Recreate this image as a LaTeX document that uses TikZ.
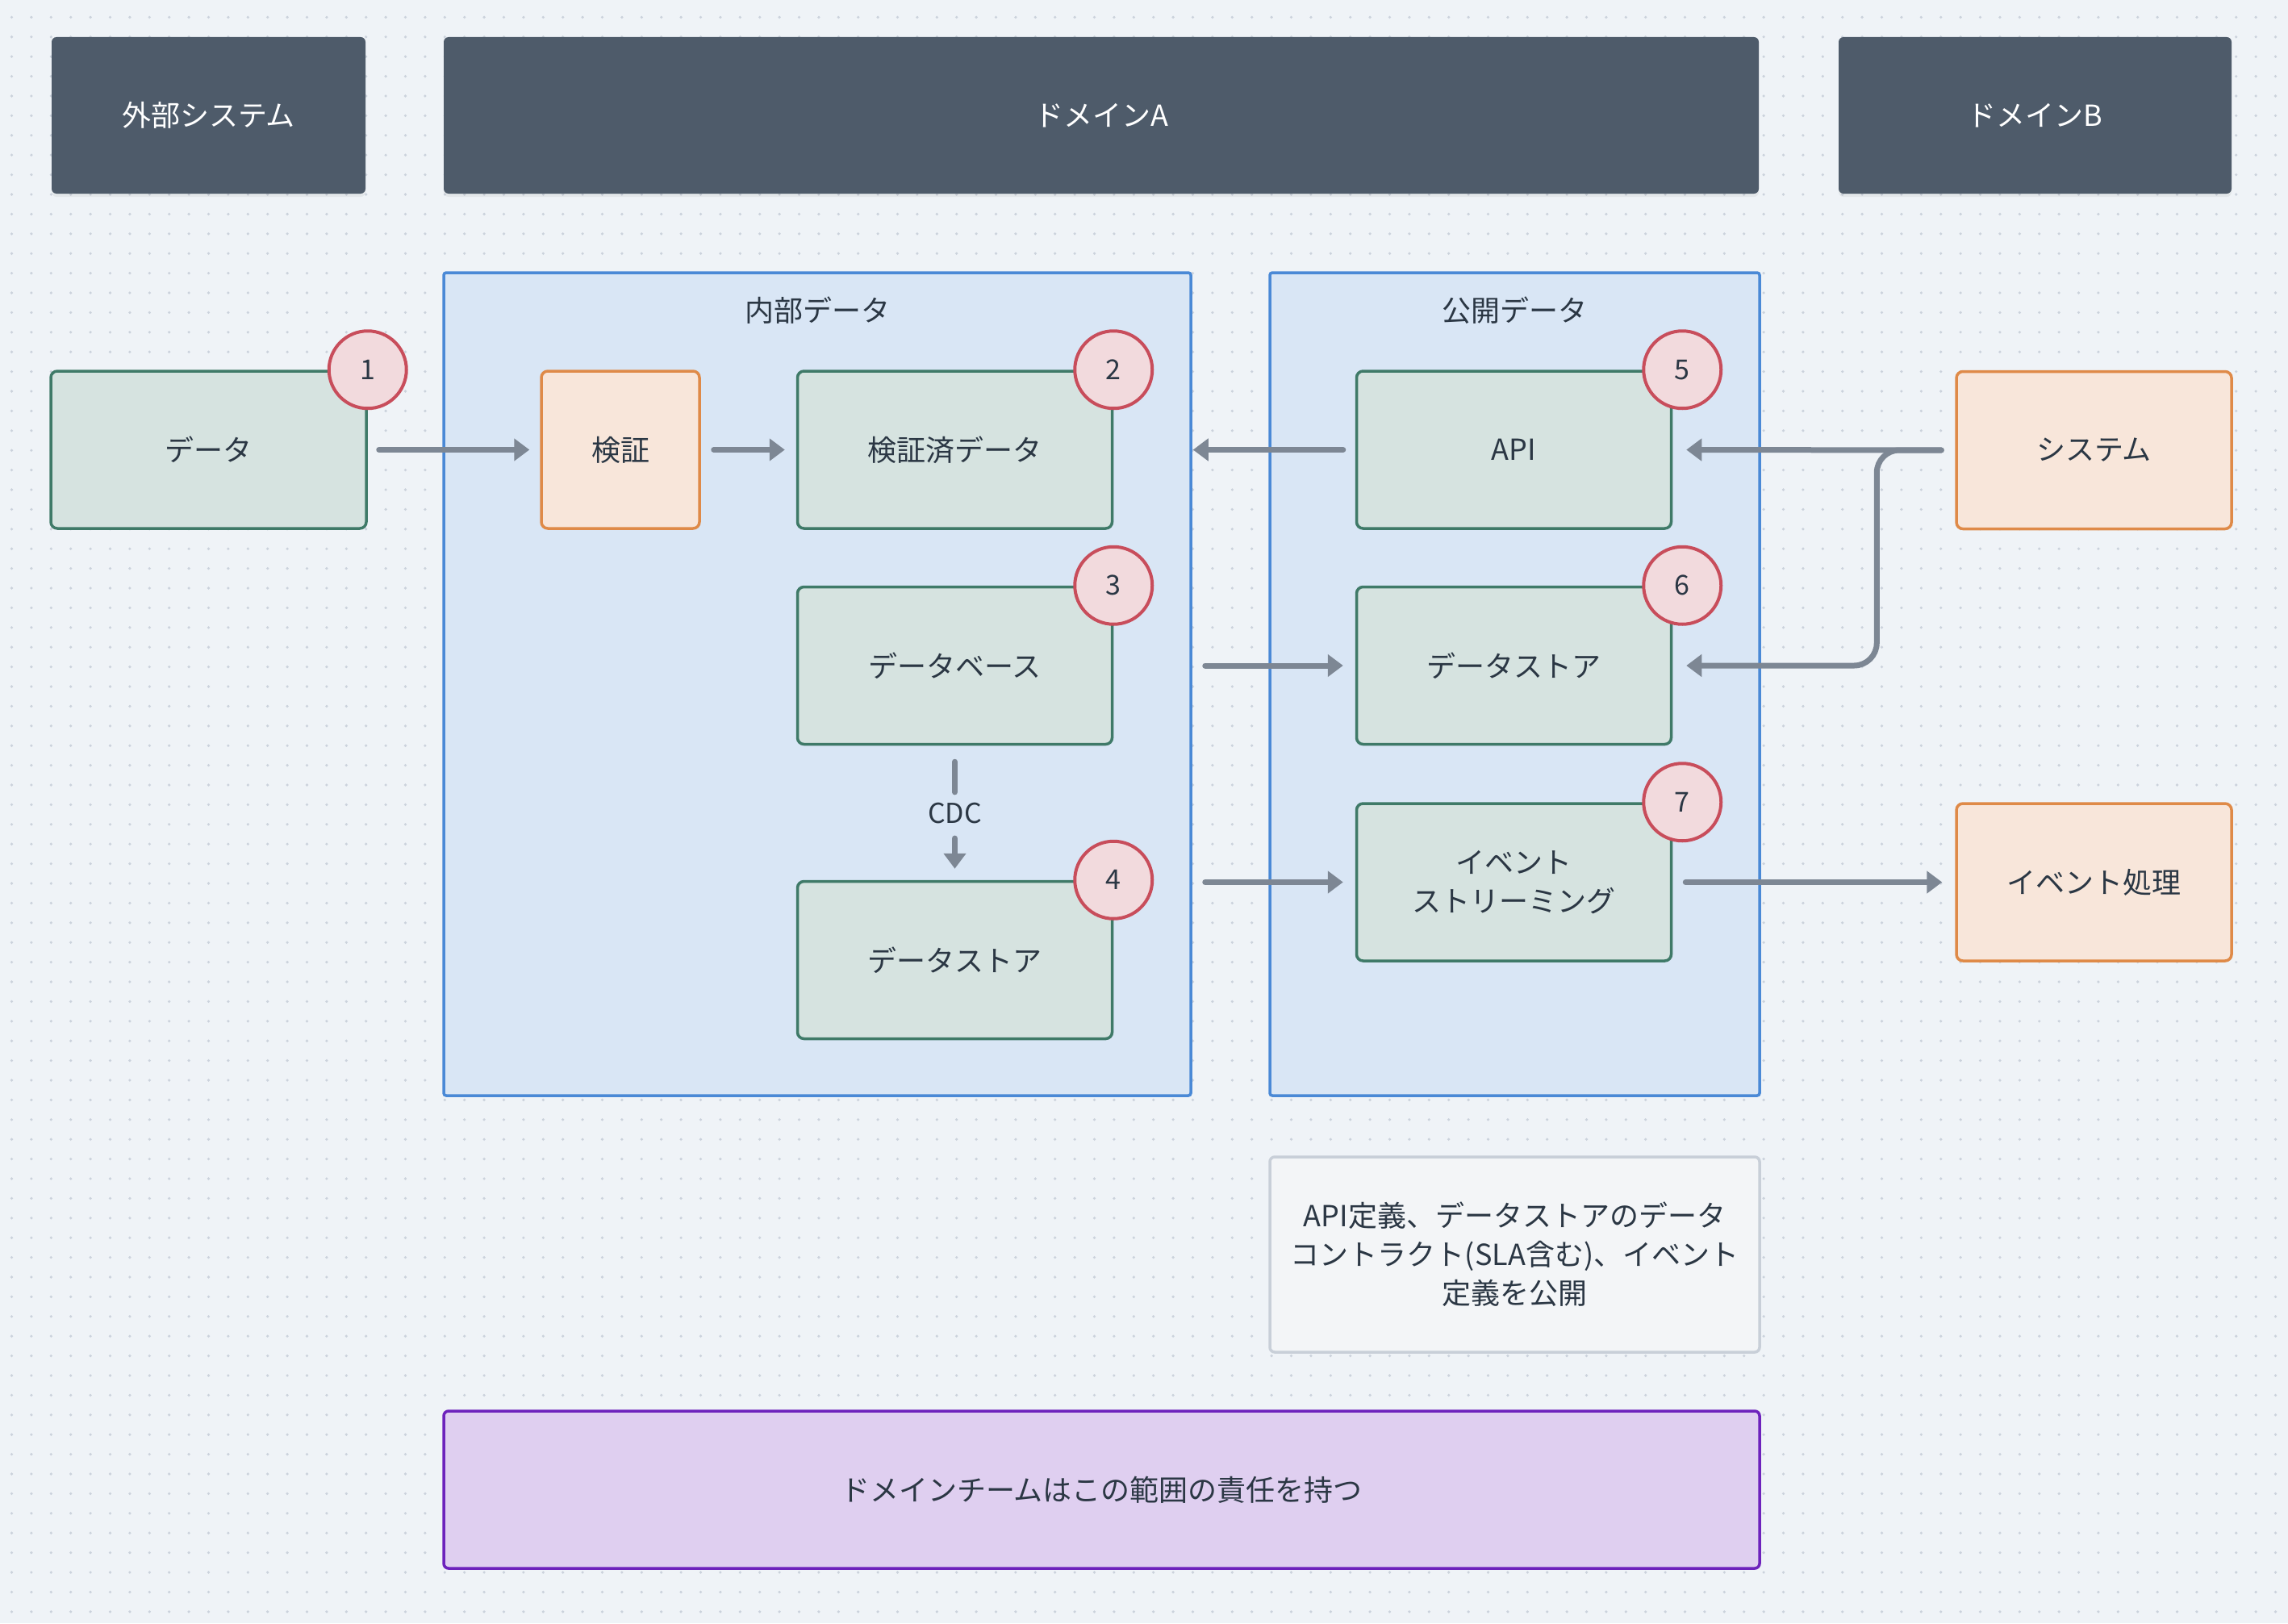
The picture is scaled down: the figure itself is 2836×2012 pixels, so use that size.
\documentclass[tikz,border=0pt]{standalone}
\usepackage{fontspec}
\setmainfont{Noto Sans CJK JP}
\usetikzlibrary{arrows.meta,shadows}
\definecolor{bg}{HTML}{EFF3F7}
\definecolor{dotc}{HTML}{CBD2DC}
\definecolor{hdr}{HTML}{4E5B6A}
\definecolor{txt}{HTML}{2B3744}
\definecolor{gfill}{HTML}{D6E3E0}
\definecolor{gline}{HTML}{3F7A68}
\definecolor{ofill}{HTML}{F8E6DA}
\definecolor{oline}{HTML}{DF8A48}
\definecolor{cfill}{HTML}{D9E6F5}
\definecolor{cline}{HTML}{4A89D6}
\definecolor{rfill}{HTML}{F2DADD}
\definecolor{rline}{HTML}{C84D5B}
\definecolor{nfill}{HTML}{F3F5F7}
\definecolor{nline}{HTML}{C8CFD8}
\definecolor{pfill}{HTML}{DFCFF0}
\definecolor{pline}{HTML}{6D22BC}
\definecolor{arr}{HTML}{7D8794}
\begin{document}
\begin{tikzpicture}[x=1pt,y=-1pt,
  every node/.style={font=\fontsize{36pt}{48pt}\selectfont, text=txt, inner sep=0pt, align=center},
  hdrbox/.style={fill=hdr, rounded corners=6pt, text=white, minimum height=194pt,
    drop shadow={opacity=0.10, shadow xshift=0pt, shadow yshift=-4pt}},
  gbox/.style={draw=gline, fill=gfill, line width=3.5pt, rounded corners=8pt, minimum height=195pt, minimum width=390pt},
  obox/.style={draw=oline, fill=ofill, line width=3.5pt, rounded corners=8pt, minimum height=195pt},
  container/.style={draw=cline, fill=cfill, line width=3.5pt, rounded corners=3pt, minimum height=1020pt},
  badge/.style={circle, draw=rline, fill=rfill, line width=4pt, minimum size=96pt, font=\fontsize{34pt}{40pt}\selectfont},
  notebox/.style={draw=nline, fill=nfill, line width=3.5pt, rounded corners=6pt, minimum width=607pt, minimum height=242pt},
  teambox/.style={draw=pline, fill=pfill, line width=3.5pt, rounded corners=6pt, minimum width=1631pt, minimum height=195pt},
  plain/.style={draw=arr, line width=7pt, line cap=round},
  arrow/.style={plain, -{Triangle[length=19pt,width=27pt]}},
  dotrow/.style={draw=dotc, line width=3.6pt, line cap=round, dash pattern=on 0pt off 24.4pt}
]
\useasboundingbox (0,0) rectangle (2836,2012);
\fill[bg] (0,0) rectangle (2836,2012);
\foreach \j in {0,...,81}{
  \draw[dotrow] (14.5, 21.4+24.4*\j) -- (2836, 21.4+24.4*\j);
}

% headers
\node[hdrbox, minimum width=389pt] (hext) at (258.5,143) {外部システム};
\node[hdrbox, minimum width=1630pt] (hA) at (1365,143) {ドメインA};
\node[hdrbox, minimum width=487pt] (hB) at (2522.5,143) {ドメインB};

% containers
\node[container, minimum width=926pt] (inner) at (1013,848) {};
\node[container, minimum width=607pt] (public) at (1877.5,848) {};
\node (innerlbl) at (1013,385) {内部データ};
\node (publbl) at (1877.5,385) {公開データ};

% nodes
\node[gbox, minimum width=391pt] (data) at (258.5,557.5) {データ};
\node[obox, minimum width=196pt] (verify) at (769,557.5) {検証};
\node[gbox] (vdata) at (1183.5,557.5) {検証済データ};
\node[gbox] (db) at (1183.5,825) {データベース};
\node[gbox] (ds4) at (1183.5,1190) {データストア};
\node[gbox] (api) at (1876.5,557.5) {API};
\node[gbox] (ds6) at (1876.5,825) {データストア};
\node[gbox] (es7) at (1876.5,1093.5) {イベント\\ストリーミング};
\node[obox, minimum width=341pt] (sys) at (2595.5,558) {システム};
\node[obox, minimum width=341pt] (evp) at (2595.5,1093.5) {イベント処理};

\node[notebox] (note) at (1877.5,1555) {API定義、データストアのデータ\\コントラクト(SLA含む)、イベント\\定義を公開};
\node[teambox] (team) at (1365.5,1846.5) {ドメインチームはこの範囲の責任を持つ};

% connectors
\draw[arrow, shorten <=14pt, shorten >=13pt] (data.east) -- (verify.west);
\draw[arrow, shorten <=16pt, shorten >=14pt] (verify.east) -- (vdata.west);
\draw[arrow, shorten <=15pt, shorten >=1pt] (api.west) -- (api.west -| inner.east);
\draw[arrow, shorten <=16pt, shorten >=15pt] (ds6.west -| inner.east) -- (ds6.west);
\draw[arrow, shorten <=16pt, shorten >=15pt] (es7.west -| inner.east) -- (es7.west);
\draw[arrow, shorten <=17pt, shorten >=17pt] (sys.west) -- (api.east);
\draw[arrow, rounded corners=28pt, shorten <=17pt, shorten >=17pt] (sys.west) -- ++(-97,0) |- (ds6.east);
\draw[arrow, shorten <=16pt, shorten >=16pt] (es7.east) -- (evp.west);

\node[font=\fontsize{34pt}{40pt}\selectfont] (cdc) at (1183.5,1008) {CDC};
\draw[plain] ([yshift=-20pt]db.south) -- ([yshift=13pt]cdc.north);
\draw[arrow, shorten <=18pt, shorten >=14pt] (cdc.south) -- (ds4.north);

% badges
\node[badge] (b1) at (data.north east) {1};
\node[badge] (b2) at (vdata.north east) {2};
\node[badge] (b3) at (db.north east) {3};
\node[badge] (b4) at (ds4.north east) {4};
\node[badge] (b5) at ([xshift=12pt]api.north east) {5};
\node[badge] (b6) at ([xshift=12pt]ds6.north east) {6};
\node[badge] (b7) at ([xshift=12pt]es7.north east) {7};
\end{tikzpicture}
\end{document}
